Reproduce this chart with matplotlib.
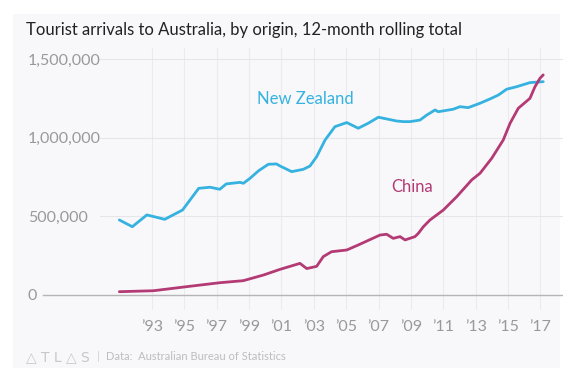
import matplotlib
matplotlib.use("Agg")
import matplotlib.pyplot as plt
from matplotlib.patches import Rectangle

# ---- Data (visitors per 12 months) ----
nz_years = [1991.0, 1991.8, 1992.7, 1993.8, 1994.9, 1995.9, 1996.6, 1997.2, 1997.6,
            1998.45, 1998.66, 1999.07, 1999.6, 2000.2, 2000.7, 2000.92, 2001.64,
            2002.36, 2002.77, 2003.18, 2003.7, 2004.31, 2005.04, 2005.75, 2006.37,
            2006.99, 2007.51, 2008.12, 2008.53, 2008.95, 2009.56, 2009.98, 2010.49,
            2010.69, 2011.62, 2012.03, 2012.54, 2013.27, 2013.88, 2014.4, 2014.91,
            2015.53, 2016.35, 2017.17]
nz_values = [477000, 434000, 509000, 481000, 540000, 678000, 685000, 672000, 706000,
             716000, 710000, 742000, 790000, 831000, 833000, 820000, 784000,
             799000, 820000, 879000, 985000, 1070000, 1096000, 1060000, 1092000,
             1130000, 1119000, 1106000, 1102000, 1102000, 1112000, 1144000, 1176000,
             1165000, 1181000, 1197000, 1191000, 1219000, 1246000, 1271000, 1308000,
             1324000, 1350000, 1356000]

cn_years = [1991.0, 1993.1, 1995.16, 1997.2, 1998.65, 1999.9, 2000.92, 2002.15,
            2002.57, 2003.18, 2003.59, 2004.1, 2005.04, 2005.75, 2007.09, 2007.5,
            2007.91, 2008.33, 2008.64, 2009.25, 2009.46, 2009.77, 2010.18, 2011.0,
            2011.83, 2012.75, 2013.27, 2013.99, 2014.7, 2015.12, 2015.63, 2016.35,
            2016.66, 2016.97, 2017.17]
cn_values = [21000, 27000, 53000, 78000, 91000, 127000, 163000, 201000,
             168000, 182000, 244000, 275000, 286000, 318000, 381000, 386000,
             360000, 371000, 350000, 371000, 392000, 434000, 477000, 540000,
             625000, 731000, 774000, 869000, 985000, 1091000, 1187000, 1250000,
             1324000, 1378000, 1399000]

tick_years = list(range(1993, 2018, 2))
tick_labels = ["\u2019%02d" % (y % 100) for y in tick_years]
y_ticks = [0, 500000, 1000000, 1500000]
y_labels = ["0", "500,000", "1,000,000", "1,500,000"]

NZ_COLOR = "#35b2e0"
CN_COLOR = "#b33a74"
FONT = ["Lato", "DejaVu Sans"]
plt.rcParams["font.family"] = FONT

fig = plt.figure(figsize=(5.87, 3.81), dpi=100)
fig.patch.set_facecolor("white")
fig.patches.append(Rectangle((13 / 587, 13 / 381), 547 / 587, 354 / 381,
                             transform=fig.transFigure, facecolor="#f8f8fa",
                             edgecolor="none", zorder=-5))

ax = fig.add_axes([28 / 587, 71 / 381, 535 / 587, 262 / 381])
ax.set_zorder(2)
ax.set_facecolor("none")
ax.set_xlim(1985.36, 2018.39)
ax.set_ylim(-95400, 1570000)
for s in ax.spines.values():
    s.set_visible(False)

# grid
for y in tick_years:
    ax.axvline(y, color="#ebebef", lw=0.8, zorder=1)
for v in y_ticks[1:]:
    ax.axhline(v, xmin=72 / 535, xmax=1, color="#e6e6e9", lw=0.8, zorder=1)
ax.axhline(0, xmin=15 / 535, xmax=1, color="#b5b5b8", lw=1.0, zorder=2)

ax.plot(nz_years, nz_values, color=NZ_COLOR, lw=2.0, zorder=3, solid_capstyle="round")
ax.plot(cn_years, cn_values, color=CN_COLOR, lw=2.0, zorder=4, solid_capstyle="round")

ax.set_xticks(tick_years)
ax.set_xticklabels(tick_labels)
ax.set_yticks(y_ticks)
ax.set_yticklabels(y_labels)
ax.tick_params(axis="x", length=0, pad=7, labelsize=11.5, labelcolor="#999999")
ax.tick_params(axis="y", length=0, pad=0, labelsize=11.5, labelcolor="#999999")
for lab in ax.get_yticklabels():
    lab.set_horizontalalignment("left")

ax.text(2002.49, 1246000, "New Zealand", color=NZ_COLOR, fontsize=12,
        ha="center", va="center")
ax.text(2009.1, 687000, "China", color=CN_COLOR, fontsize=12,
        ha="center", va="center")

fig.text(26 / 587, 1 - 30 / 381, "Tourist arrivals to Australia, by origin, 12-month rolling total",
         fontsize=12, color="#222222", ha="left", va="center")

fig.text(26 / 587, 1 - 357 / 381, "\u25b3 T L \u25b3 S", fontsize=10, color="#c8c8cc",
         ha="left", va="center", family=["DejaVu Sans"])
fig.text(97 / 587, 1 - 357 / 381, "|", fontsize=8, color="#d0d0d4", ha="left", va="center")
fig.text(106 / 587, 1 - 357 / 381, "Data:  Australian Bureau of Statistics", fontsize=8,
         color="#bdbdc2", ha="left", va="center")

fig.savefig("out.png", dpi=100)
